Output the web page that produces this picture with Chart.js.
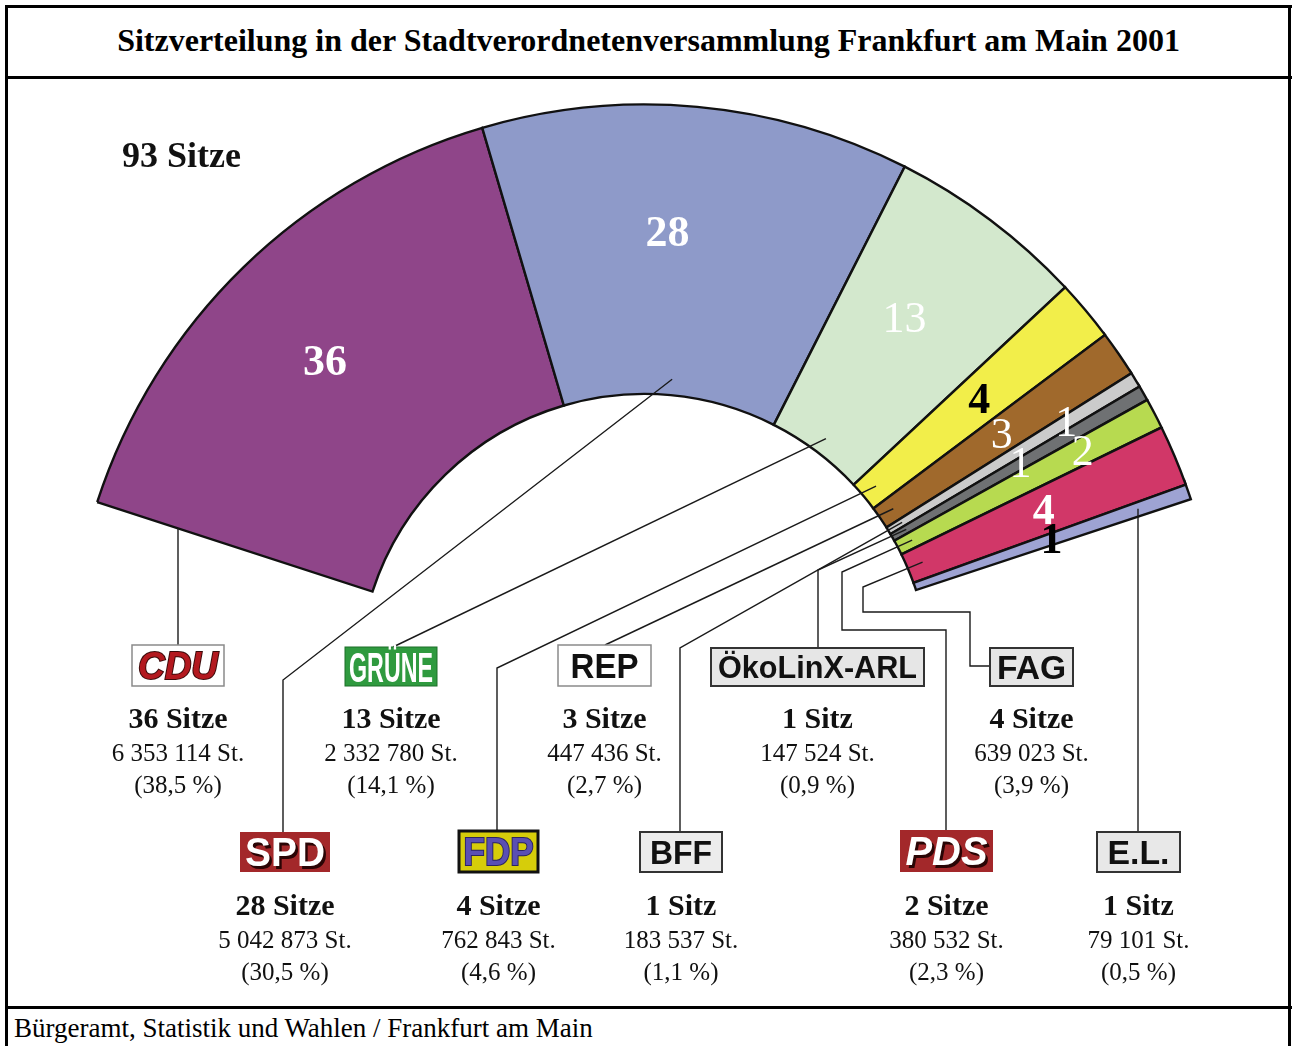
<!DOCTYPE html>
<html>
<head>
<meta charset="utf-8">
<title>Sitzverteilung Frankfurt 2001</title>
<script src="https://cdn.jsdelivr.net/npm/chart.js@4.4.0/dist/chart.umd.min.js"></script>
<style>
  html, body { margin: 0; padding: 0; background: #fff; }
  #page { position: relative; width: 1293px; height: 1046px; overflow: hidden; }
  .rule { position: absolute; background: #000; }
  #title {
    position: absolute; left: 8px; right: 4px; top: 22px; text-align: center;
    font: bold 32px "Liberation Serif", "Times New Roman", serif; color: #000;
  }
  #source {
    position: absolute; left: 14px; top: 1013px;
    font: 27px "Liberation Serif", "Times New Roman", serif; color: #000;
  }
  #seats { position: absolute; left: 0; top: 0; }
</style>
</head>
<body>
<div id="page">
  <div class="rule" style="left:5px; top:5px; width:1287px; height:2.5px;"></div>
  <div class="rule" style="left:5px; top:5px; width:2.5px; height:1041px;"></div>
  <div class="rule" style="left:1288px; top:5px; width:3px; height:1041px;"></div>
  <div class="rule" style="left:5px; top:76px; width:1287px; height:2.5px;"></div>
  <div class="rule" style="left:5px; top:1006px; width:1287px; height:3px;"></div>
  <div id="title">Sitzverteilung in der Stadtverordnetenversammlung Frankfurt am Main 2001</div>
  <div id="source">Bürgeramt, Statistik und Wahlen / Frankfurt am Main</div>
  <canvas id="seats" width="1293" height="1046"></canvas>
</div>
<script>
// data, left to right around the arc
const parties = ['CDU', 'SPD', 'GRÜNE', 'FDP', 'REP', 'BFF', 'ÖkoLinX-ARL', 'PDS', 'FAG', 'E.L.'];
const seats = [36, 28, 13, 4, 3, 1, 1, 2, 4, 1];
const votes = ['6 353 114', '5 042 873', '2 332 780', '762 843', '447 436', '183 537', '147 524', '380 532', '639 023', '79 101'];
const shares = ['38,5', '30,5', '14,1', '4,6', '2,7', '1,1', '0,9', '2,3', '3,9', '0,5'];
const sliceColors = ['#8f4589', '#8e9ac9', '#d3e8cd', '#f2ee4a', '#a0692c', '#cbcbcb', '#6f7173', '#b7da50', '#d13768', '#9ea3d3'];

const SERIF = '"Liberation Serif", "Times New Roman", serif';
const SANS = '"Liberation Sans", Arial, sans-serif';

// seat number inside each slice: radius fraction of the ring, colour, weight, angle nudge (deg)
const numberStyle = [
  [0.57, '#fff', 'bold', -0.9], [0.56, '#fff', 'bold', -2.3], [0.55, '#fff', 'normal', -1.2],
  [0.52, '#000', 'bold', 0], [0.51, '#fff', 'normal', 0], [0.72, '#fff', 'normal', 0],
  [0.51, '#fff', 'normal', 0], [0.72, '#fff', 'normal', 0], [0.51, '#fff', 'bold', 0],
  [0.50, '#000', 'bold', 0]
];

// party logo boxes
const logoBoxes = [
  { x: 132, y: 645, w: 92, h: 41, fill: '#fff', border: '#8a8a8a', bw: 1.5, color: '#b3191f', font: 'italic bold', size: 38, fit: 80, stroke: '#3b0a0a' },
  { x: 240, y: 832, w: 90, h: 40, fill: '#a3282a', color: '#fff', font: 'bold', size: 40, fit: 80, shadow: '#2a0505' },
  { x: 345, y: 647, w: 92, h: 39, fill: '#2f9a3f', border: '#1d6e28', bw: 1, color: '#fff', font: 'bold', size: 42, fit: 84 },
  { x: 459, y: 831, w: 79, h: 41, fill: '#d6cd0a', border: '#111', bw: 3, color: '#5a4fb3', font: 'bold', size: 38, fit: 70, stroke: '#2c2560' },
  { x: 558, y: 645, w: 93, h: 41, fill: '#fff', border: '#8a8a8a', bw: 1.5, color: '#111', font: 'bold', size: 35, fit: 68 },
  { x: 640, y: 832, w: 82, h: 40, fill: '#ececec', border: '#333', bw: 2, color: '#111', font: 'bold', size: 34, fit: 62 },
  { x: 711, y: 648, w: 213, h: 38, fill: '#e6e6e6', border: '#333', bw: 2, color: '#111', font: 'bold', size: 31, fit: 199 },
  { x: 900, y: 830, w: 93, h: 42, fill: '#a3282a', color: '#fff', font: 'italic bold', size: 40, fit: 82, shadow: '#2a0505' },
  { x: 990, y: 648, w: 83, h: 38, fill: '#e6e6e6', border: '#333', bw: 2, color: '#111', font: 'bold', size: 33, fit: 69 },
  { x: 1097, y: 832, w: 83, h: 40, fill: '#e8e8e8', border: '#333', bw: 2, color: '#111', font: 'bold', size: 34, fit: 62 }
];
const textRowTop = [645, 832];   // figures under the boxes start from the row top

// leader lines: where each one leaves the slice and the bends down to its box
const leaderStart = ['edgeStart', 'mid', 'mid', 'mid', 'mid', 'mid', 'mid', 'mid', 'mid', 'edgeEnd'];
const leaderRoutes = [
  [[178, 645]],
  [[283, 680], [283, 832]],
  [[393, 647]],
  [[497, 668], [497, 831]],
  [[605, 645]],
  [[680, 648], [680, 832]],
  [[818, 570], [818, 648]],
  [[842, 572], [842, 630], [946, 630], [946, 830]],
  [[863, 587], [863, 612], [970, 612], [970, 666], [990, 666]],
  [[1138, 832]]
];

function drawLogo(ctx, b, text) {
  ctx.save();
  ctx.fillStyle = b.fill;
  ctx.fillRect(b.x, b.y, b.w, b.h);
  if (b.border) {
    ctx.strokeStyle = b.border;
    ctx.lineWidth = b.bw;
    ctx.strokeRect(b.x, b.y, b.w, b.h);
  }
  ctx.font = b.font + ' ' + b.size + 'px ' + SANS;
  const sx = b.fit / ctx.measureText(text).width;
  ctx.translate(b.x + b.w / 2, b.y + b.h / 2 + b.size * 0.36);
  ctx.scale(sx, 1);
  ctx.textAlign = 'center';
  ctx.textBaseline = 'alphabetic';
  if (b.shadow) {
    ctx.fillStyle = b.shadow;
    ctx.fillText(text, 2.5 / sx, 2.5);
  }
  if (b.stroke) {
    ctx.strokeStyle = b.stroke;
    ctx.lineWidth = 2;
    ctx.strokeText(text, 0, 0);
  }
  ctx.fillStyle = b.color;
  ctx.fillText(text, 0, 0);
  ctx.restore();
}

const partyLabels = {
  id: 'partyLabels',
  afterDatasetsDraw(chart) {
    const ctx = chart.ctx;
    const arcs = chart.getDatasetMeta(0).data;
    ctx.save();

    // total seats
    ctx.fillStyle = '#111';
    ctx.font = 'bold 36px ' + SERIF;
    ctx.textAlign = 'left';
    ctx.textBaseline = 'alphabetic';
    ctx.fillText(seats.reduce((a, b) => a + b, 0) + ' Sitze', 122, 167);

    arcs.forEach((arc, i) => {
      const p = arc.getProps(['x', 'y', 'startAngle', 'endAngle', 'innerRadius', 'outerRadius'], true);
      const mid = (p.startAngle + p.endAngle) / 2;

      // seat number in the slice
      const st = numberStyle[i];
      const r = p.innerRadius + st[0] * (p.outerRadius - p.innerRadius);
      const la = mid + st[3] * Math.PI / 180;
      ctx.fillStyle = st[1];
      ctx.font = st[2] + ' 44px ' + SERIF;
      ctx.textAlign = 'center';
      ctx.textBaseline = 'middle';
      ctx.fillText(String(seats[i]), p.x + Math.cos(la) * r, p.y + Math.sin(la) * r + 2);

      // leader line
      const route = leaderRoutes[i];
      let start;
      if (leaderStart[i] === 'mid') {
        const rs = p.innerRadius + 16;
        start = [p.x + Math.cos(mid) * rs, p.y + Math.sin(mid) * rs];
      } else {
        const a = leaderStart[i] === 'edgeStart' ? p.startAngle : p.endAngle;
        const px = route[0][0];
        const re = (px - p.x) / Math.cos(a);
        start = [px, p.y + Math.sin(a) * re - (leaderStart[i] === 'edgeEnd' ? 8 : 0)];
      }
      ctx.strokeStyle = '#1a1a1a';
      ctx.lineWidth = 1.4;
      ctx.beginPath();
      ctx.moveTo(start[0], start[1]);
      route.forEach(pt => ctx.lineTo(pt[0], pt[1]));
      ctx.stroke();

      // logo box and the figures below it
      const b = logoBoxes[i];
      drawLogo(ctx, b, parties[i]);
      const cx = b.x + b.w / 2;
      const ty = b.y < 760 ? textRowTop[0] : textRowTop[1];
      ctx.fillStyle = '#111';
      ctx.textAlign = 'center';
      ctx.textBaseline = 'alphabetic';
      ctx.font = 'bold 30px ' + SERIF;
      ctx.fillText(seats[i] + (seats[i] === 1 ? ' Sitz' : ' Sitze'), cx, ty + 83);
      ctx.font = '25px ' + SERIF;
      ctx.fillText(votes[i] + ' St.', cx, ty + 116);
      ctx.fillText('(' + shares[i] + ' %)', cx, ty + 148);
    });
    ctx.restore();
  }
};

const seatChart = new Chart(document.getElementById('seats'), {
  type: 'doughnut',
  data: {
    labels: parties,
    datasets: [{
      data: seats,
      backgroundColor: sliceColors,
      borderColor: '#111',
      borderWidth: 2.4,
      hoverBorderWidth: 2.4,
      hoverOffset: 0,
      borderJoinStyle: 'miter'
    }]
  },
  options: {
    responsive: false,
    animation: false,
    events: [],
    rotation: -72,
    circumference: 143.7,
    cutout: '49.7%',
    layout: {
      padding: { left: 96, right: 101, top: 103, bottom: 453 }
    },
    plugins: {
      legend: { display: false },
      tooltip: { enabled: false },
      title: { display: false }
    }
  },
  plugins: [partyLabels]
});
</script>
</body>
</html>
